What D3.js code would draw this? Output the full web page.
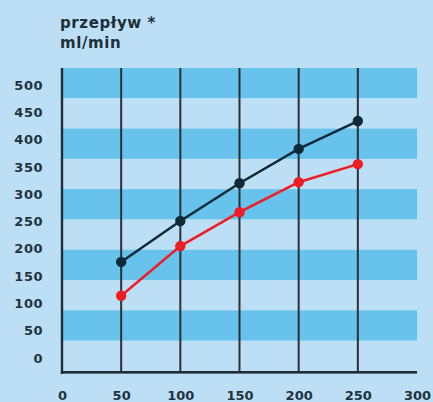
<!DOCTYPE html>
<html><head><meta charset="utf-8">
<script src="https://cdn.jsdelivr.net/npm/d3@7/dist/d3.min.js"></script>
<style>html,body{margin:0;padding:0;background:#bddff5;}svg{display:block;}</style>
</head><body>
<script>
const xValues = [50, 100, 150, 200, 250];
const seriesDark = [176, 251, 320, 383, 434];
const seriesRed = [114, 205, 267, 322, 355];
const xTicks = [0, 50, 100, 150, 200, 250, 300];
const yTicks = [0, 50, 100, 150, 200, 250, 300, 350, 400, 450, 500];
const titleLines = ["przepływ *", "ml/min"];
const stripeCount = 10;

const W = 433, H = 402;
const svg = d3.select("body").append("svg").attr("width", W).attr("height", H);
svg.append("rect").attr("width", W).attr("height", H).attr("fill", "#bddff5");

const x = d3.scaleLinear().domain([0, 300]).range([62, 417]);
const y = d3.scaleLinear().domain([0, 500]).range([358, 85]);
const band = d3.scaleBand().domain(d3.range(stripeCount)).range([68, 371]).paddingInner(0);

// stripes
svg.append("g").selectAll("rect").data(d3.range(stripeCount)).join("rect")
  .attr("x", x(0)).attr("width", x(300) - x(0))
  .attr("y", d => band(d)).attr("height", band.bandwidth())
  .attr("fill", d => d % 2 === 0 ? "#67c2ec" : "#bddff5");

// vertical grid lines
svg.append("g").selectAll("rect").data(xValues).join("rect")
  .attr("x", d => x(d) - 1).attr("width", 2)
  .attr("y", 68).attr("height", 304)
  .attr("fill", "#2a3036");

const font = "'DejaVu Sans', 'Liberation Sans', Arial, sans-serif";
// y labels
const yAxis = d3.axisLeft(y).tickValues(yTicks).tickSize(0).tickPadding(0);
const gy = svg.append("g").attr("transform", "translate(43,0)").call(yAxis);
gy.select(".domain").remove();
gy.selectAll("text").attr("font-family", font).attr("font-size", 13).attr("font-weight", "bold")
  .attr("fill", "#203340").attr("letter-spacing", "0.5px");

// x labels
const xAxis = d3.axisBottom(x).tickValues(xTicks).tickSize(0).tickPadding(0);
const gx = svg.append("g").attr("transform", "translate(0,391)").call(xAxis);
gx.select(".domain").remove();
gx.selectAll("text").attr("font-family", font).attr("font-size", 13).attr("font-weight", "bold")
  .attr("fill", "#203340");

// axis frame (left and bottom)
svg.append("rect").attr("x", x(0) - 1.2).attr("y", 68).attr("width", 2.4).attr("height", 306)
  .attr("fill", "#1f2d36");
svg.append("rect").attr("x", x(0) - 1.2).attr("y", 371).attr("width", x(300) - x(0) + 1.2).attr("height", 2.6)
  .attr("fill", "#1f2d36");

// title
svg.append("g").selectAll("text").data(titleLines).join("text")
  .attr("x", 60).attr("y", (d, i) => 28 + i * 20)
  .attr("font-family", font).attr("font-size", 15).attr("font-weight", "bold")
  .attr("letter-spacing", "0.6px")
  .attr("fill", "#1c2f3c").text(d => d);

const line = d3.line().x(d => x(d[0])).y(d => y(d[1]));
function drawSeries(vals, color) {
  const pts = xValues.map((v, i) => [v, vals[i]]);
  svg.append("path").datum(pts).attr("d", line).attr("fill", "none")
    .attr("stroke", color).attr("stroke-width", 2.5);
  svg.append("g").selectAll("circle").data(pts).join("circle")
    .attr("cx", d => x(d[0])).attr("cy", d => y(d[1])).attr("r", 5.2).attr("fill", color);
}
drawSeries(seriesRed, "#ee1c24");
drawSeries(seriesDark, "#0e2a38");
</script>
</body></html>
